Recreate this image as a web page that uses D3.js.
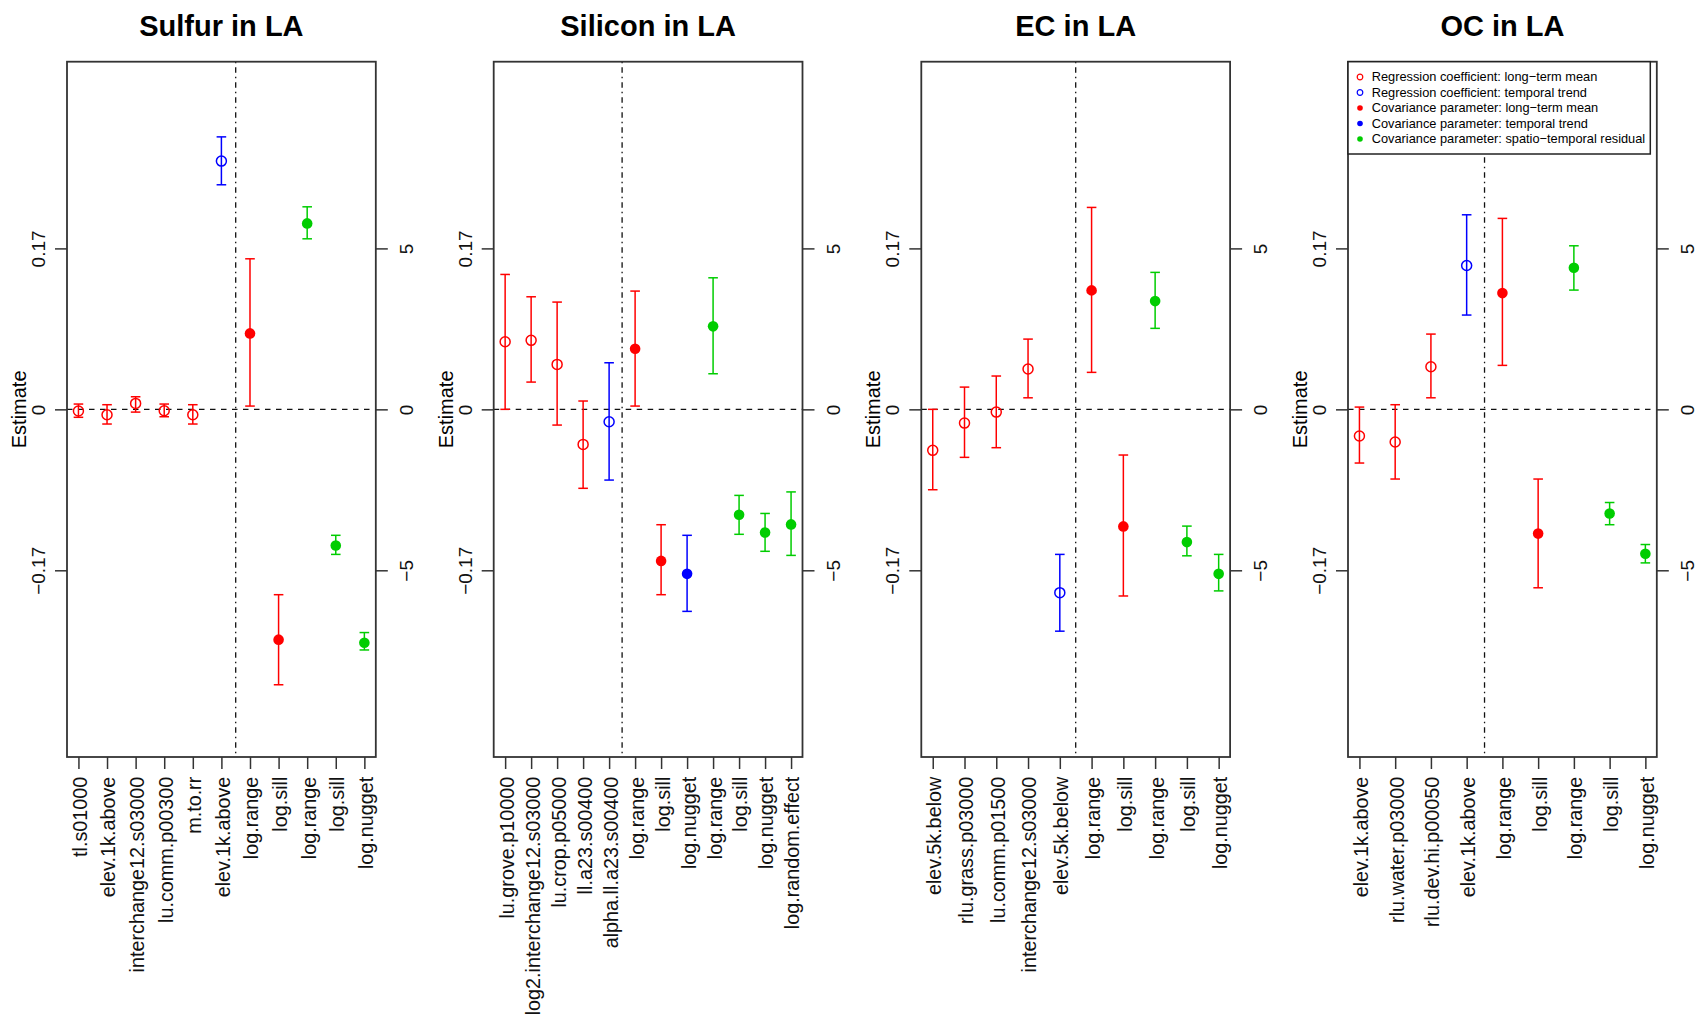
<!DOCTYPE html>
<html>
<head>
<meta charset="utf-8">
<script src="https://cdn.jsdelivr.net/npm/d3@7"></script>
<style>
  body { margin: 0; background: #fff; }
  svg { font-family: "Liberation Sans", Arial, Helvetica, sans-serif; }
  .tick line { stroke: #333; stroke-width: 1.5; }
  .tick text { fill: #111; font-size: 19px; }
  .axis--x .tick text { font-size: 19.8px; }
</style>
</head>
<body>
<svg id="chart" width="1697" height="1021"></svg>
<script>
'use strict';

var titles = ['Sulfur in LA', 'Silicon in LA', 'EC in LA', 'OC in LA'];

// left axis: regression coefficients, right axis: log covariance parameters
var leftTicks = [-0.17, 0, 0.17];
var rightTicks = [-5, 0, 5];

// kinds: rm/rt = regression coef (long-term mean / temporal trend),
// cm/ct = covariance param (long-term mean / temporal trend), cr = spatio-temporal residual
var sulfurNames = ['tl.s01000', 'elev.1k.above', 'interchange12.s03000', 'lu.comm.p00300', 'm.to.rr',
  'elev.1k.above', 'log.range', 'log.sill', 'log.range', 'log.sill', 'log.nugget'];
var sulfurKind = ['rm', 'rm', 'rm', 'rm', 'rm', 'rt', 'cm', 'cm', 'cr', 'cr', 'cr'];
var sulfurEst = [-0.0018, -0.0057, 0.0063, -0.0015, -0.0057, 0.2622, 2.36, -7.155, 5.776, -4.23, -7.25];
var sulfurLo = [-0.0084, -0.0155, -0.0029, -0.0078, -0.0155, 0.2372, 0.102, -8.556, 5.298, -4.506, -7.475];
var sulfurHi = [0.0056, 0.0049, 0.0133, 0.0056, 0.0049, 0.2878, 4.677, -5.758, 6.292, -3.913, -6.934];

var siliconNames = ['lu.grove.p10000', 'log2.interchange12.s03000', 'lu.crop.p05000', 'll.a23.s00400',
  'alpha.ll.a23.s00400', 'log.range', 'log.sill', 'log.nugget', 'log.range', 'log.sill', 'log.nugget',
  'log.random.effect'];
var siliconKind = ['rm', 'rm', 'rm', 'rm', 'rt', 'cm', 'cm', 'ct', 'cr', 'cr', 'cr', 'cr'];
var siliconEst = [0.0714, 0.0729, 0.0475, -0.037, -0.0131, 1.882, -4.708, -5.11, 2.578, -3.276, -3.828, -3.574];
var siliconLo = [0, 0.0288, -0.0166, -0.0834, -0.0747, 0.102, -5.758, -6.276, 1.106, -3.882, -4.41, -4.537];
var siliconHi = [0.1425, 0.1189, 0.1133, 0.0088, 0.0492, 3.674, -3.584, -3.913, 4.087, -2.673, -3.234, -2.565];

var ecNames = ['elev.5k.below', 'rlu.grass.p03000', 'lu.comm.p01500', 'interchange12.s03000',
  'elev.5k.below', 'log.range', 'log.sill', 'log.range', 'log.sill', 'log.nugget'];
var ecKind = ['rm', 'rm', 'rm', 'rm', 'rt', 'cm', 'cm', 'cr', 'cr', 'cr'];
var ecEst = [-0.0433, -0.0145, -0.0029, 0.0426, -0.1936, 3.696, -3.637, 3.363, -4.124, -5.11];
var ecLo = [-0.0849, -0.0507, -0.0405, 0.0122, -0.2343, 1.149, -5.798, 2.516, -4.55, -5.64];
var ecHi = [0, 0.0235, 0.0352, 0.0742, -0.1532, 6.273, -1.419, 4.255, -3.627, -4.506];

var ocNames = ['elev.1k.above', 'rlu.water.p03000', 'rlu.dev.hi.p00050', 'elev.1k.above',
  'log.range', 'log.sill', 'log.range', 'log.sill', 'log.nugget'];
var ocKind = ['rm', 'rm', 'rm', 'rt', 'cm', 'cm', 'cr', 'cr', 'cr'];
var ocEst = [-0.0282, -0.0345, 0.045, 0.152, 3.612, -3.86, 4.398, -3.234, -4.485];
var ocLo = [-0.0567, -0.0736, 0.0122, 0.0996, 1.366, -5.543, 3.705, -3.584, -4.77];
var ocHi = [0.0024, 0.0049, 0.0795, 0.2055, 5.932, -2.165, 5.081, -2.894, -4.199];

var legendLabels = [
  'Regression coefficient: long\u2212term mean',
  'Regression coefficient: temporal trend',
  'Covariance parameter: long\u2212term mean',
  'Covariance parameter: temporal trend',
  'Covariance parameter: spatio\u2212temporal residual'
];
var legendKinds = ['rm', 'rt', 'cm', 'ct', 'cr'];

var panels = [
  { names: sulfurNames, kind: sulfurKind, est: sulfurEst, lo: sulfurLo, hi: sulfurHi },
  { names: siliconNames, kind: siliconKind, est: siliconEst, lo: siliconLo, hi: siliconHi },
  { names: ecNames, kind: ecKind, est: ecEst, lo: ecLo, hi: ecHi },
  { names: ocNames, kind: ocKind, est: ocEst, lo: ocLo, hi: ocHi }
];

var colorOf = { rm: '#ff0000', rt: '#0000ff', cm: '#ff0000', ct: '#0000ff', cr: '#00cd00' };
var filled = { rm: false, rt: false, cm: true, ct: true, cr: true };
function isReg(k) { return k === 'rm' || k === 'rt'; }
function fmt(d) { return d3.format('.2~f')(d).replace('-', '\u2212'); }

var lefts = [67, 493.7, 921.3, 1348];
var boxW = 308.8;
var plotTop = 61.7, plotBottom = 757;

var svg = d3.select('#chart');

var yL = d3.scaleLinear().domain([-0.3672, 0.3672]).range([plotBottom, plotTop]);
var yR = d3.scaleLinear().domain([-10.8, 10.8]).range([plotBottom, plotTop]);

panels.forEach(function(p, pi) {
  var n = p.names.length;
  var x0 = lefts[pi];
  var pad = 0.04 * (n - 1);
  var x = d3.scaleLinear().domain([1 - pad, n + pad]).range([x0, x0 + boxW]);
  var g = svg.append('g');

  function yOf(i, v) { return isReg(p.kind[i]) ? yL(v) : yR(v); }

  // title
  g.append('text')
      .attr('x', x0 + boxW / 2)
      .attr('y', 36)
      .attr('text-anchor', 'middle')
      .style('font-size', '29px')
      .style('font-weight', 'bold')
      .text(titles[pi]);

  // axes
  var yAxisL = d3.axisLeft(yL).tickValues(leftTicks).tickSize(12).tickFormat(fmt);
  var yAxisR = d3.axisRight(yR).tickValues(rightTicks).tickSize(12).tickFormat(fmt);
  var xAxis = d3.axisBottom(x).tickValues(d3.range(1, n + 1)).tickSize(12)
      .tickFormat(function(d) { return p.names[d - 1]; });

  var gl = g.append('g').attr('transform', 'translate(' + x0 + ',0)').call(yAxisL);
  gl.select('.domain').remove();
  gl.selectAll('.tick text')
      .attr('transform', 'rotate(-90)')
      .attr('x', 0).attr('y', -22).attr('dy', 0)
      .attr('text-anchor', 'middle');

  var gr = g.append('g').attr('transform', 'translate(' + (x0 + boxW) + ',0)').call(yAxisR);
  gr.select('.domain').remove();
  gr.selectAll('.tick text')
      .attr('transform', 'rotate(-90)')
      .attr('x', 0).attr('y', 37.4).attr('dy', 0)
      .attr('text-anchor', 'middle');

  var gx = g.append('g').attr('class', 'axis--x')
      .attr('transform', 'translate(0,' + plotBottom + ')').call(xAxis);
  gx.select('.domain').remove();
  gx.selectAll('.tick text')
      .attr('transform', 'rotate(-90)')
      .attr('x', -19.7).attr('y', 0).attr('dy', '0.4em')
      .attr('text-anchor', 'end');

  // y label
  g.append('text')
      .attr('transform', 'translate(' + (x0 - 41) + ',' + ((plotTop + plotBottom) / 2) + ') rotate(-90)')
      .attr('text-anchor', 'middle')
      .style('font-size', '20px')
      .text('Estimate');

  // reference lines
  g.append('line')
      .attr('x1', x0).attr('x2', x0 + boxW)
      .attr('y1', yL(0)).attr('y2', yL(0))
      .attr('stroke', '#111').attr('stroke-width', 1.3)
      .attr('stroke-dasharray', '5.5,5.5');

  var split = d3.max(d3.range(n).filter(function(i) { return isReg(p.kind[i]); })) + 1.5;
  g.append('line')
      .attr('x1', x(split)).attr('x2', x(split))
      .attr('y1', plotTop).attr('y2', plotBottom)
      .attr('stroke', '#111').attr('stroke-width', 1.3)
      .attr('stroke-dasharray', '1.5,4,5.5,4');

  // error bars
  var idx = d3.range(n);
  var bars = g.append('g').selectAll('g').data(idx).enter().append('g')
      .attr('stroke', function(i) { return colorOf[p.kind[i]]; })
      .attr('stroke-width', 1.5);
  bars.append('line')
      .attr('x1', function(i) { return x(i + 1); })
      .attr('x2', function(i) { return x(i + 1); })
      .attr('y1', function(i) { return yOf(i, p.lo[i]); })
      .attr('y2', function(i) { return yOf(i, p.hi[i]); });
  bars.append('line')
      .attr('x1', function(i) { return x(i + 1) - 4.8; })
      .attr('x2', function(i) { return x(i + 1) + 4.8; })
      .attr('y1', function(i) { return yOf(i, p.lo[i]); })
      .attr('y2', function(i) { return yOf(i, p.lo[i]); });
  bars.append('line')
      .attr('x1', function(i) { return x(i + 1) - 4.8; })
      .attr('x2', function(i) { return x(i + 1) + 4.8; })
      .attr('y1', function(i) { return yOf(i, p.hi[i]); })
      .attr('y2', function(i) { return yOf(i, p.hi[i]); });

  // points
  g.append('g').selectAll('circle').data(idx).enter().append('circle')
      .attr('cx', function(i) { return x(i + 1); })
      .attr('cy', function(i) { return yOf(i, p.est[i]); })
      .attr('r', function(i) { return filled[p.kind[i]] ? 5.3 : 5; })
      .attr('fill', function(i) { return filled[p.kind[i]] ? colorOf[p.kind[i]] : 'none'; })
      .attr('stroke', function(i) { return colorOf[p.kind[i]]; })
      .attr('stroke-width', function(i) { return filled[p.kind[i]] ? 0 : 1.5; });

  // box
  g.append('rect')
      .attr('x', x0).attr('y', plotTop)
      .attr('width', boxW).attr('height', plotBottom - plotTop)
      .attr('fill', 'none').attr('stroke', '#333').attr('stroke-width', 1.8);

  // legend in the last panel
  if (pi === panels.length - 1) {
    var lg = g.append('g');
    lg.append('rect')
        .attr('x', x0).attr('y', plotTop)
        .attr('width', 302.3).attr('height', 92.3)
        .attr('fill', '#fff').attr('stroke', '#222').attr('stroke-width', 1.5);
    var items = lg.selectAll('.item').data(legendLabels).enter().append('g')
        .attr('class', 'item')
        .attr('transform', function(d, i) { return 'translate(' + (x0 + 12) + ',' + (77 + i * 15.5) + ')'; });
    items.append('circle')
        .attr('r', 2.8)
        .attr('fill', function(d, i) { return filled[legendKinds[i]] ? colorOf[legendKinds[i]] : 'none'; })
        .attr('stroke', function(d, i) { return colorOf[legendKinds[i]]; })
        .attr('stroke-width', function(d, i) { return filled[legendKinds[i]] ? 0 : 1.2; });
    items.append('text')
        .attr('x', 11.7)
        .attr('dy', '0.35em')
        .style('font-size', '12.8px')
        .text(function(d) { return d; });
  }
});
</script>
</body>
</html>
